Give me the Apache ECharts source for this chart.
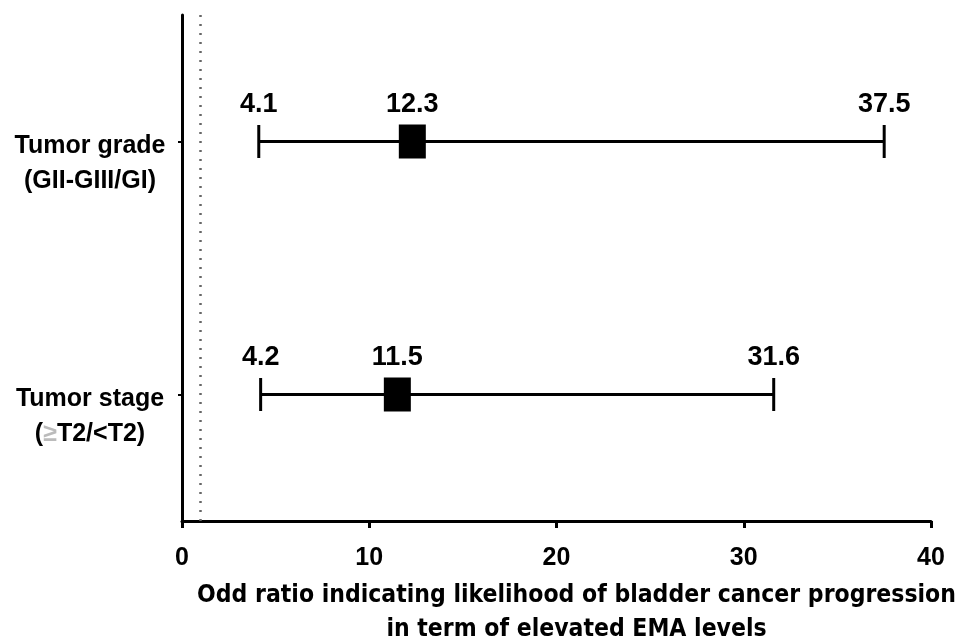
<!DOCTYPE html>
<html>
<head>
<meta charset="utf-8">
<script src="https://cdn.jsdelivr.net/npm/echarts@6/dist/echarts.min.js"></script>
<style>
html,body{margin:0;padding:0;background:#fff;overflow:hidden;}
#chart{width:959px;height:641px;}
</style>
</head>
<body>
<div id="chart"></div>
<script>
const categories = ['Tumor stage\n(≥T2/<T2)', 'Tumor grade\n(GII-GIII/GI)'];
const lowerCI = [4.2, 4.1];
const oddsRatio = [11.5, 12.3];
const upperCI = [31.6, 37.5];
const xTickValues = [0, 10, 20, 30, 40];
const referenceLine = 1;
const xTitle = 'Odd ratio indicating likelihood of bladder cancer progression\nin term of elevated EMA levels';

const chart = echarts.init(document.getElementById('chart'), null, {width: 959, height: 641});
const FONT = '"Liberation Sans", Arial, sans-serif';

const forestData = categories.map((c, i) => [i, lowerCI[i], oddsRatio[i], upperCI[i]]);

function renderItem(params, api) {
  const cat = api.value(0);
  const lo = api.coord([api.value(1), cat]);
  const pt = api.coord([api.value(2), cat]);
  const hi = api.coord([api.value(3), cat]);
  const y = lo[1];
  const capH = 33, sqW = 27, sqH = 34, labelDy = 37;
  const lineStyle = {stroke: '#000', lineWidth: 3};
  const txt = (x, v) => ({
    type: 'text',
    style: {x: x, y: y - labelDy, text: String(v), fill: '#000',
      font: 'bold 27px ' + FONT, align: 'center', verticalAlign: 'middle'}
  });
  return {
    type: 'group',
    children: [
      {type: 'line', shape: {x1: lo[0], y1: y, x2: hi[0], y2: y}, style: lineStyle},
      {type: 'line', shape: {x1: lo[0], y1: y - capH / 2, x2: lo[0], y2: y + capH / 2}, style: lineStyle},
      {type: 'line', shape: {x1: hi[0], y1: y - capH / 2, x2: hi[0], y2: y + capH / 2}, style: lineStyle},
      {type: 'rect', shape: {x: pt[0] - sqW / 2, y: y - sqH / 2, width: sqW, height: sqH}, style: {fill: '#000'}},
      txt(lo[0], api.value(1)),
      txt(pt[0], api.value(2)),
      txt(hi[0], api.value(3))
    ]
  };
}

function catLabel(v) {
  const lines = v.split('\n').map(l => '{t|' + l.split('≥').join('}{g|≥}{t|') + '}');
  return '{s|}\n' + lines.join('\n');
}

chart.setOption({
  animation: false,
  backgroundColor: '#fff',
  grid: {left: 182, right: 28, top: 15, bottom: 120, containLabel: false, outerBoundsMode: 'none'},
  xAxis: {
    type: 'value',
    min: xTickValues[0],
    max: xTickValues[xTickValues.length - 1],
    interval: xTickValues[1] - xTickValues[0],
    splitLine: {show: false},
    axisLine: {show: true, lineStyle: {color: '#000', width: 3}},
    axisTick: {show: true, length: 7, lineStyle: {color: '#000', width: 3}},
    axisLabel: {color: '#000', fontFamily: FONT, fontWeight: 'bold', fontSize: 25, margin: 25},
    name: xTitle,
    nameLocation: 'middle',
    nameGap: 58,
    nameTextStyle: {color: '#000', fontFamily: '"Liberation Sans Narrow", "DejaVu Sans Condensed", Arial, sans-serif',
      fontWeight: 'bold', fontSize: 24.5, lineHeight: 34, verticalAlign: 'top', padding: [0, 0, 0, 40]}
  },
  yAxis: {
    type: 'category',
    data: categories,
    boundaryGap: true,
    axisLine: {show: true, lineStyle: {color: '#000', width: 3}},
    axisTick: {show: true, alignWithLabel: true, length: 4, lineStyle: {color: '#000', width: 2}},
    axisLabel: {color: '#000', fontFamily: FONT, fontWeight: 'bold', fontSize: 25,
      align: 'center', verticalAlign: 'middle', margin: 92,
      formatter: catLabel,
      rich: {
        s: {lineHeight: 45, fontSize: 10},
        t: {lineHeight: 35, fontSize: 25, fontWeight: 'bold', fontFamily: FONT, color: '#000'},
        g: {lineHeight: 35, fontSize: 25, fontWeight: 'bold', fontFamily: FONT, color: '#bbb'}
      }},
    splitLine: {show: false}
  },
  series: [{
    type: 'custom',
    renderItem: renderItem,
    data: forestData,
    encode: {x: [1, 2, 3], y: 0},
    markLine: {
      silent: true,
      symbol: 'none',
      label: {show: false},
      lineStyle: {color: '#666', type: [2, 7], width: 2.5},
      data: [{xAxis: referenceLine}]
    }
  }]
});
</script>
</body>
</html>
